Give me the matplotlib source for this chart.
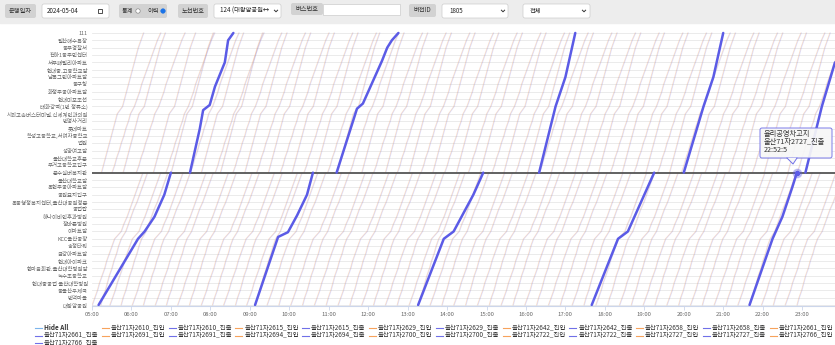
import matplotlib
matplotlib.use("Agg")
import matplotlib.pyplot as plt
from matplotlib.patches import Rectangle, FancyBboxPatch, Circle, Polygon

plt.rcParams['font.family'] = ['Noto Sans CJK KR', 'DejaVu Sans']

W, H = 835, 345

# stops, top to bottom as shown on the y axis
stops = [
    "111", "일산해수욕장", "동부경찰서", "전하1동주민센터", "서부패밀리아파트",
    "현대중.고등학교앞", "남목그린아파트앞", "동구청", "화정주공아파트앞", "현대미포조선",
    "태화강역(1번 정류소)", "시외고속버스터미널.신세계인과의원", "번영사거리", "롯데마트",
    "학성고등학교,서여자중학교", "법원", "성광여고앞", "울산대학교후문", "무거고등학교입구",
    "문수실버복지관", "울산대학교앞", "옥현주공아파트앞", "공원묘지입구",
    "옥동행정복지센터,울산대공원정문", "공업탑", "하나이비인후과병원", "장바른병원",
    "이마트앞", "KCC울산공장", "송정타워", "금강아파트앞", "현대아이파크",
    "한마음회관.울산대학병원앞", "녹수초등학교", "현대중공업 울산대학병원",
    "동울산우체국", "번덕마을", "대왕암공원",
]
n_stops = len(stops)
mid_stop = 18  # index from bottom of 문수실버복지관

# running minutes from the first stop of each half (two typical shapes)
lower_profiles = [
    [0, 4, 8, 11, 15, 19, 22, 26, 30, 34, 44, 48, 53, 57, 61, 65, 69, 73, 77],
    [0, 3, 7, 10, 13, 17, 20, 24, 27, 31, 38, 42, 46, 50, 55, 59, 63, 67, 71],
]
upper_profiles = [
    [0, 3, 6, 9, 12, 15, 18, 21, 24, 32, 35, 38, 41, 44, 47, 50, 53, 56, 60, 64],
    [0, 4, 7, 11, 14, 18, 21, 25, 28, 34, 38, 42, 45, 49, 53, 57, 61, 65, 69, 74],
]

# departure times of the faded trips
lower_starts = [
    "05:00", "05:13", "05:27", "05:44", "06:01", "06:18", "06:36", "06:53", "07:10", "07:28",
    "07:46", "08:03", "08:20", "08:38", "08:55", "09:08", "09:26", "09:44", "10:02", "10:20",
    "10:38", "10:56", "11:14", "11:32", "11:50", "12:08", "12:26", "12:44", "13:02", "13:16",
    "13:34", "13:52", "14:10", "14:28", "14:46", "15:04", "15:22", "15:40", "15:58", "16:16",
    "16:34", "16:52", "17:10", "17:28", "17:46", "18:04", "18:22", "18:40", "18:58", "19:16",
    "19:34", "19:52", "20:10", "20:28", "20:46", "21:04", "21:22", "21:40", "21:58", "22:16",
    "22:34", "22:52",
]
upper_starts = [
    "05:14", "05:30", "05:47", "06:07", "06:33", "06:52", "07:00", "07:29", "07:46", "08:07",
    "08:15", "08:34", "08:52", "09:10", "09:28", "09:46", "10:04", "10:22", "10:40", "10:58",
    "11:13", "11:32", "11:50", "12:08", "12:26", "12:44", "13:02", "13:20", "13:38", "13:56",
    "14:14", "14:32", "14:50", "15:08", "15:26", "15:44", "16:02", "16:20", "16:38", "16:56",
    "17:14", "17:32", "17:50", "18:08", "18:26", "18:44", "19:02", "19:20", "19:38", "19:56",
    "20:14", "20:32", "20:50", "21:08", "21:26", "21:44", "22:02", "22:20", "22:38", "22:52",
]

# hovered series 울산71자2727_진출: (time, stop index from bottom)
hl_segments = [
    [("05:10", 0), ("06:10", 9), ("06:20", 10), ("06:35", 12), ("06:50", 15), ("07:00", 18)],
    [("07:29", 18), ("07:44", 24), ("07:49", 26.5), ("07:59", 27.2), ("08:07", 29.7), ("08:22", 33), ("08:27", 36), ("08:35", 37)],
    [("09:08", 0), ("09:43", 9.25), ("09:58", 9.9), ("10:12", 12.2), ("10:27", 15), ("10:36", 18)],
    [("11:12", 18), ("11:43", 26.7), ("11:52", 27.4), ("12:21", 33.2), ("12:29", 35), ("12:36", 36), ("12:46", 37)],
    [("13:16", 0), ("13:55", 9), ("14:10", 10), ("14:40", 15), ("14:55", 18)],
    [("16:20", 18), ("16:45", 27), ("17:00", 31), ("17:15", 37)],
    [("17:40", 0), ("18:20", 9), ("18:35", 10), ("19:00", 15), ("19:15", 18)],
    [("20:00", 18), ("20:30", 27), ("20:45", 31), ("21:00", 37)],
    [("21:40", 0), ("22:15", 9), ("22:30", 12), ("22:45", 16), ("22:52", 18)],
    [("23:05", 18), ("23:30", 27), ("23:50", 33)],
]

buses = ["2610", "2615", "2629", "2642", "2658", "2661", "2691", "2694", "2700", "2722", "2727", "2766"]

col_in = "#f7a35c"
col_out = "#7070e8"


def tmin(s):
    h, m = s.split(":")
    return int(h) * 60 + int(m)


fig = plt.figure(figsize=(W / 100, H / 100), dpi=100)

# ---- chart
ax_left, ax_top, ax_bottom = 92, 29.3, 306
ax = fig.add_axes([ax_left / W, 1 - ax_bottom / H, (W - ax_left) / W, (ax_bottom - ax_top) / H])
ax.set_xlim(300, 1430)
ax.set_ylim(-0.14, 37.5)
for s in ax.spines.values():
    s.set_visible(False)

for j in range(n_stops):
    if j == mid_stop:
        continue
    ax.axhline(j, color="#e8e8e8", lw=0.6, zorder=0)
ax.axhline(mid_stop, color="#555555", lw=1.3, zorder=3)
ax.axhline(-0.14, color="#ccd6eb", lw=0.8, zorder=3, clip_on=False)

ax.set_yticks(range(n_stops))
ax.set_yticklabels(stops[::-1], fontsize=3.9, color="#666666")
ax.tick_params(axis="y", length=0, pad=3)
hours = list(range(5, 24))
ax.set_xticks([h * 60 for h in hours])
ax.set_xticklabels([f"{h:02d}:00" for h in hours], fontsize=4.3, color="#666666")
ax.tick_params(axis="x", length=3, width=0.6, color="#ccd6eb", pad=1.5)

lower_j = list(range(0, mid_stop + 1))
upper_j = list(range(mid_stop, n_stops))
for k, st in enumerate(lower_starts):
    t0 = tmin(st)
    prof = lower_profiles[k % 2]
    ax.plot([t0 + p for p in prof], lower_j, color=col_in, lw=0.6, alpha=0.3, zorder=1)
    ax.plot([t0 + 1 + p for p in prof], lower_j, color=col_out, lw=0.6, alpha=0.22, zorder=1)
for k, st in enumerate(upper_starts):
    t0 = tmin(st)
    prof = upper_profiles[k % 2]
    ax.plot([t0 + p for p in prof], upper_j, color=col_in, lw=0.6, alpha=0.3, zorder=1)
    ax.plot([t0 + 1 + p for p in prof], upper_j, color=col_out, lw=0.6, alpha=0.22, zorder=1)

for seg in hl_segments:
    ax.plot([tmin(t) for t, _ in seg], [j for _, j in seg], color="#5b5be6", lw=1.8, zorder=4,
            solid_capstyle="round")

# hover point
ax.plot(tmin("22:52"), mid_stop, "o", ms=6, color="#5b5be6", alpha=0.3, zorder=5)
ax.plot(tmin("22:52"), mid_stop, "o", ms=3, color="#5b5be6", zorder=6)

# ---- overlay in pixel coordinates
ov = fig.add_axes([0, 0, 1, 1])
ov.set_xlim(0, W)
ov.set_ylim(H, 0)
ov.axis("off")
ov.patch.set_visible(False)

ov.add_patch(Rectangle((0, 0), W, 23, color="#ededed", zorder=0))


def box(x, y, w, h, fc, ec="none"):
    ov.add_patch(FancyBboxPatch((x, y), w, h, boxstyle="round,pad=0,rounding_size=2",
                                fc=fc, ec=ec, lw=0.5, zorder=1))


def chevron(x, y):
    ov.plot([x - 1.6, x, x + 1.6], [y - 0.8, y + 0.8, y - 0.8], color="#333333", lw=0.7, zorder=2)


fs = 4.5
box(5, 4, 31, 14, "#d2d2d2")
ov.text(20.5, 11, "운행일자", fontsize=fs, color="#333333", ha="center", va="center")
box(42, 4, 67, 14, "white", "#cccccc")
ov.text(47, 11, "2024-05-04", fontsize=fs, color="#222222", va="center")
ov.add_patch(Rectangle((97.5, 8.5), 4, 4.5, fc="none", ec="#333333", lw=0.6, zorder=2))
box(119, 4, 48, 14, "#d2d2d2")
ov.text(122, 11, "통계", fontsize=fs, color="#333333", va="center")
ov.add_patch(Circle((138, 11), 2.2, fc="white", ec="#888888", lw=0.5, zorder=2))
ov.text(147, 11, "이력", fontsize=fs, color="#333333", va="center")
ov.add_patch(Circle((163, 11), 2.2, fc="#1a73e8", ec="#1a73e8", lw=0.5, zorder=2))
box(178, 4, 30, 14, "#d2d2d2")
ov.text(193, 11, "노선번호", fontsize=fs, color="#333333", ha="center", va="center")
box(214, 4, 67, 14, "white", "#cccccc")
ov.text(220, 11, "124 (대왕암공원↔", fontsize=fs, color="#222222", va="center")
chevron(276, 11)
box(291, 3, 32, 12, "#d2d2d2")
ov.text(307, 9, "버스번호", fontsize=fs, color="#333333", ha="center", va="center")
ov.add_patch(Rectangle((323, 4), 77, 11, fc="white", ec="#cccccc", lw=0.5, zorder=1))
box(409, 4, 27, 13, "#d2d2d2")
ov.text(422.5, 10.5, "버전ID", fontsize=fs, color="#333333", ha="center", va="center")
box(442, 4, 66, 14, "white", "#cccccc")
ov.text(449, 11, "1805", fontsize=fs, color="#222222", va="center")
chevron(503, 11)
box(523, 4, 67, 14, "white", "#cccccc")
ov.text(530, 11, "전체", fontsize=fs, color="#222222", va="center")
chevron(584, 11)

# legend
items = [("Hide All", "#7cb5ec")]
for b in buses:
    items.append((f"울산71자{b}_진입", col_in))
    items.append((f"울산71자{b}_진출", col_out))
col_x = [35 + 66.8 * k for k in range(12)]
row_y = [328, 335.5, 342.5]
for k, (lab, c) in enumerate(items):
    x = col_x[k % 12]
    y = row_y[k // 12]
    ov.plot([x, x + 7], [y, y], color=c, lw=0.8)
    ov.text(x + 9, y, lab, fontsize=4.6, color="#333333", va="center",
            fontweight="bold" if lab == "Hide All" else "normal")

# tooltip
tip = FancyBboxPatch((760, 128), 72, 30, boxstyle="round,pad=0,rounding_size=2",
                     fc="#f7f7f7", ec="#7070e8", lw=0.7, alpha=0.92, zorder=5)
ov.add_patch(tip)
ov.add_patch(Polygon([[787, 158], [797, 158], [793, 164]], closed=True, fc="#f7f7f7", ec="none", zorder=6))
ov.plot([787, 793, 797], [158, 164, 158], color="#7070e8", lw=0.7, zorder=6)
ov.text(764, 134, "율리공영차고지", fontsize=5.2, color="#333333", va="center", zorder=7)
ov.text(764, 142, "울산71자2727_진출", fontsize=5.2, color="#333333", va="center", zorder=7)
ov.text(764, 150, "22:52:5", fontsize=5.2, color="#333333", va="center", zorder=7)

fig.savefig("out.png", dpi=100)
